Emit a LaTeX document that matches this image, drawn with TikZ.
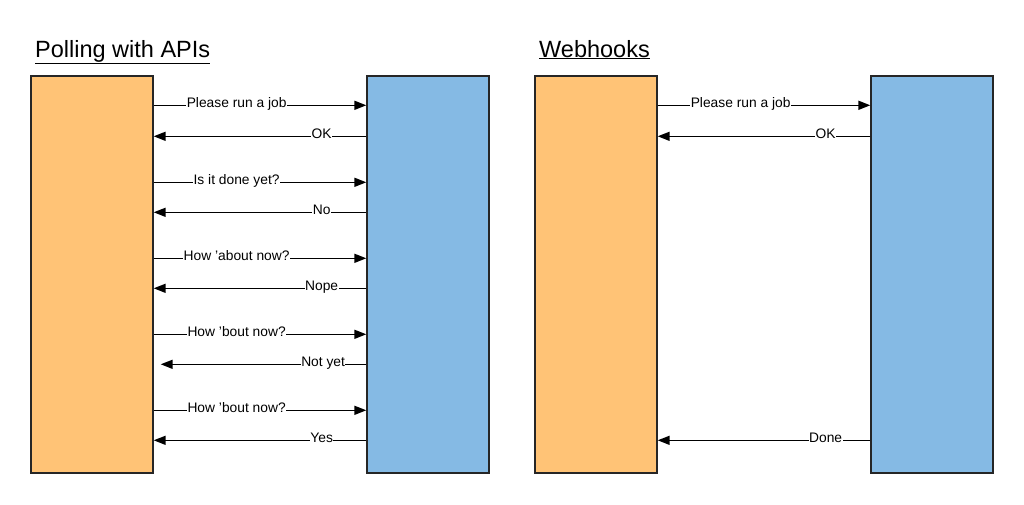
\documentclass[tikz,border=0pt]{standalone}
\usepackage{fontspec}
\setmainfont{Liberation Sans}
\usetikzlibrary{arrows.meta,positioning}
\definecolor{clientorange}{RGB}{255,195,118}
\definecolor{serverblue}{RGB}{133,186,228}
\tikzset{
  party/.style={draw=black!85,line width=1.4pt,minimum width=122pt,minimum height=397pt,inner sep=0pt},
  msg/.style={line width=1.6pt,-{Triangle[length=12pt,width=9pt]}},
  lbl/.style={fill=white,inner sep=0.5pt,anchor=mid,font=\fontsize{13.8}{16}\selectfont},
  heading/.style={anchor=base west,inner sep=0pt,font=\fontsize{23.5}{28}\selectfont}
}

\begin{document}
\begin{tikzpicture}[x=1pt,y=-1pt]
\useasboundingbox (0,0) rectangle (1024,504);
% Titles
\node[heading] (tpoll) at (35,57) {\underline{Polling with APIs}};
\node[heading] (thook) at (539,57) {\underline{Webhooks}};
% Polling parties
\node[party,fill=clientorange] (pc) at (92,274.5) {};
\node[party,fill=serverblue] (ps) at (428,274.5) {};
% Webhook parties
\node[party,fill=clientorange] (wc) at (596,274.5) {};
\node[party,fill=serverblue] (ws) at (932,274.5) {};
% Polling requests (client to server)
\foreach \dy/\txt in {30/Please run a job,107/Is it done yet?,183/How 'about now?,259/How 'bout now?,335/How 'bout now?}
  \draw[msg] ([yshift=-\dy pt]pc.north east) -- node[lbl,pos=.39] {\txt} ([yshift=-\dy pt]ps.north west);
% Polling replies (server to client)
\foreach \dy/\txt in {61/OK,137/No,213/Nope,365/Yes}
  \draw[msg] ([yshift=-\dy pt]ps.north west) -- node[lbl,pos=.21] {\txt} ([yshift=-\dy pt]pc.north east);
\draw[msg] ([yshift=-289pt]ps.north west) -- node[lbl,pos=.21] {Not yet} ([xshift=7pt,yshift=-289pt]pc.north east);
% Webhooks
\draw[msg] ([yshift=-30pt]wc.north east) -- node[lbl,pos=.39] {Please run a job} ([yshift=-30pt]ws.north west);
\draw[msg] ([yshift=-61pt]ws.north west) -- node[lbl,pos=.21] {OK} ([yshift=-61pt]wc.north east);
\draw[msg] ([yshift=-365pt]ws.north west) -- node[lbl,pos=.21] {Done} ([yshift=-365pt]wc.north east);
\end{tikzpicture}
\end{document}
